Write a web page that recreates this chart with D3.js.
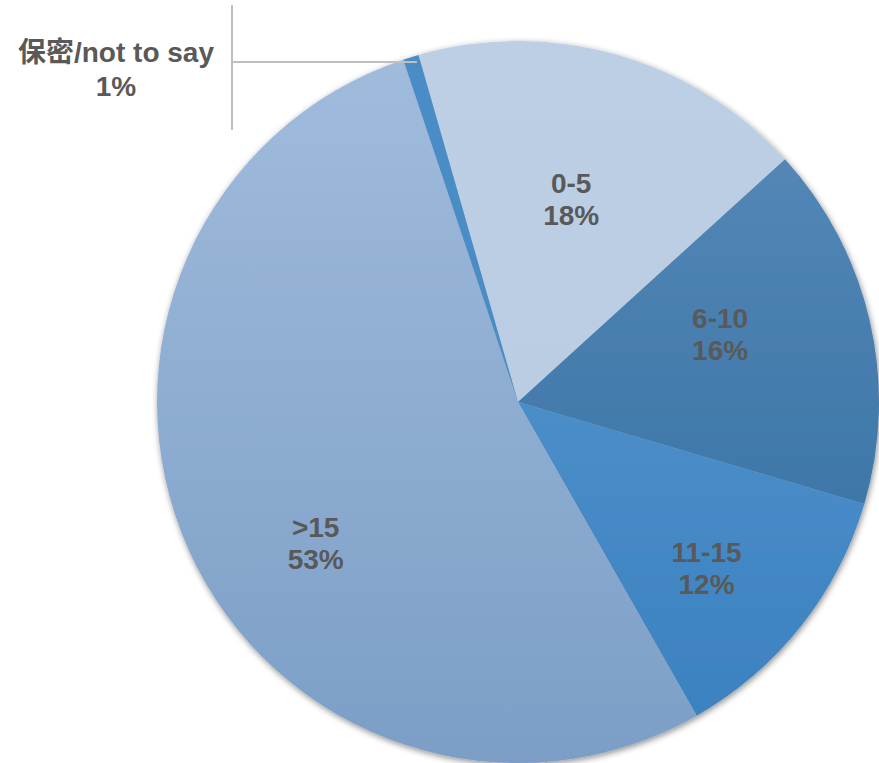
<!DOCTYPE html>
<html>
<head>
<meta charset="utf-8">
<script src="https://cdn.jsdelivr.net/npm/d3@7"></script>
<style>
  html, body { margin: 0; padding: 0; background: #fff; }
  svg { display: block; }
</style>
</head>
<body>
<svg id="chart" width="879" height="763"></svg>
<script>
// Years of experience – share of respondents
const categories = ["0-5", "6-10", "11-15", ">15", "保密/not to say"];
const shares = [17.7, 16.3, 12.2, 53.1, 0.7];
// top / bottom colour of each slice's vertical gradient
const colorTop = ["#bdcfe5", "#5a8cba", "#5a9bd3", "#a1bcdd", "#4a8cc6"];
const colorBottom = ["#b9cbe1", "#2e6b9f", "#3a80bf", "#7c9ec6", "#4a8cc6"];
// label nudges from the slice centroid (px)
const labelShift = [[-8, 10], [-16, -20], [13, 25], [2, 48], [0, 0]];

const width = 879, height = 763;
const cx = 518, cy = 402, radius = 361;
const startDeg = -16;

const svg = d3.select("#chart");
const defs = svg.append("defs");

const shadow = defs.append("filter").attr("id", "pieShadow")
  .attr("x", "-10%").attr("y", "-10%").attr("width", "120%").attr("height", "120%");
shadow.append("feDropShadow")
  .attr("dx", 1).attr("dy", 2).attr("stdDeviation", 3)
  .attr("flood-color", "#000").attr("flood-opacity", 0.45);

// gradients span the whole pie, in the pie group's local space
categories.forEach((c, i) => {
  const g = defs.append("linearGradient").attr("id", "grad" + i)
    .attr("gradientUnits", "userSpaceOnUse")
    .attr("x1", 0).attr("y1", -radius).attr("x2", 0).attr("y2", radius);
  g.append("stop").attr("offset", "0%").attr("stop-color", colorTop[i]);
  g.append("stop").attr("offset", "100%").attr("stop-color", colorBottom[i]);
});

const total = d3.sum(shares);
const pie = d3.pie().sort(null).value(d => d)
  .startAngle(startDeg * Math.PI / 180)
  .endAngle((startDeg + 360) * Math.PI / 180);
const arcs = pie(shares);

const arc = d3.arc().innerRadius(0).outerRadius(radius);
const labelArc = d3.arc().innerRadius(radius * 0.62).outerRadius(radius * 0.62);

const g = svg.append("g").attr("transform", `translate(${cx},${cy})`);

g.append("g").attr("filter", "url(#pieShadow)")
  .selectAll("path").data(arcs).join("path")
  .attr("d", arc)
  .attr("fill", (d, i) => `url(#grad${i})`);

const fmt = v => d3.format(".0%")(v / total);
const fontSize = 28, lineGap = 32;

// in-slice labels
arcs.slice(0, 4).forEach((d, i) => {
  const [x, y] = labelArc.centroid(d);
  const t = g.append("text")
    .attr("text-anchor", "middle")
    .attr("font-family", "Liberation Sans, Arial, sans-serif")
    .attr("font-weight", "bold")
    .attr("font-size", fontSize)
    .attr("fill", "#595959")
    .attr("transform", `translate(${x + labelShift[i][0]},${y + labelShift[i][1]})`);
  t.append("tspan").attr("x", 0).attr("y", -4).text(categories[i]);
  t.append("tspan").attr("x", 0).attr("y", -4 + lineGap).text(fmt(shares[i]));
});

// outside label with leader line for the smallest slice
const small = arcs[4];
const midA = (small.startAngle + small.endAngle) / 2;
const edgeX = cx + Math.sin(midA) * radius;
const elbowX = 232, lineY = 62;

svg.append("line")
  .attr("x1", elbowX).attr("y1", 5).attr("x2", elbowX).attr("y2", 130)
  .attr("stroke", "#bfbfbf").attr("stroke-width", 2);
svg.append("line")
  .attr("x1", elbowX).attr("y1", lineY).attr("x2", edgeX + 6).attr("y2", lineY)
  .attr("stroke", "#bfbfbf").attr("stroke-width", 2);

const ot = svg.append("text")
  .attr("text-anchor", "middle")
  .attr("font-family", "Liberation Sans, Arial, 'Noto Sans CJK SC', sans-serif")
  .attr("font-weight", "bold")
  .attr("font-size", fontSize)
  .attr("fill", "#595959");
ot.append("tspan").attr("x", 116).attr("y", 62).text(categories[4]);
ot.append("tspan").attr("x", 116).attr("y", 96).text(fmt(shares[4]));
</script>
</body>
</html>
